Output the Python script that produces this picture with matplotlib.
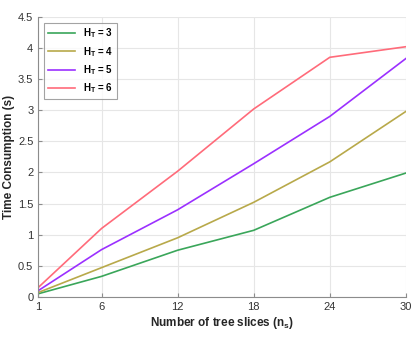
import numpy as np
import matplotlib
matplotlib.use('Agg')
import matplotlib.pyplot as plt

plt.rcParams['font.family'] = ['Liberation Sans', 'DejaVu Sans']
plt.rcParams['mathtext.fontset'] = 'custom'
plt.rcParams['mathtext.rm'] = 'Liberation Sans'
plt.rcParams['mathtext.bf'] = 'Liberation Sans:bold'

n_slices = [1, 6, 12, 18, 24, 30]
h3 = [0.05, 0.33, 0.75, 1.07, 1.60, 1.99]
h4 = [0.07, 0.47, 0.95, 1.52, 2.17, 2.98]
h5 = [0.10, 0.76, 1.40, 2.14, 2.90, 3.83]
h6 = [0.15, 1.10, 2.02, 3.02, 3.85, 4.02]
labels = [r'$\mathbf{H_T}$ = 3', r'$\mathbf{H_T}$ = 4', r'$\mathbf{H_T}$ = 5', r'$\mathbf{H_T}$ = 6']
colors = ['#3aa65a', '#b8a94a', '#9b30ff', '#ff6b7a']

fig = plt.figure(figsize=(4.15, 3.37), dpi=100)
ax = fig.add_axes([0.092, 0.119, 0.886, 0.831])

for ys, lab, c in zip([h3, h4, h5, h6], labels, colors):
    ax.plot(n_slices, ys, color=c, lw=1.2, label=lab)

ax.set_xlim(1, 30)
ax.set_ylim(0, 4.5)
ax.set_xticks(n_slices)
ax.set_yticks(np.arange(0, 4.51, 0.5))
ax.set_yticklabels(['0', '0.5', '1', '1.5', '2', '2.5', '3', '3.5', '4', '4.5'])
ax.grid(True, color='#e6e6e6', lw=0.8)
ax.set_axisbelow(True)
for s in ['top', 'right']:
    ax.spines[s].set_visible(False)
for s in ['left', 'bottom']:
    ax.spines[s].set_color('#8c8c8c')
ax.tick_params(direction='in', length=3, colors='#8c8c8c', labelcolor='#333333', labelsize=8)

ax.set_xlabel('Number of tree slices (n$_\\mathbf{s}$)', fontsize=8.5, fontweight='bold', color='#262626', labelpad=2)
ax.set_ylabel('Time Consumption (s)', fontsize=8.5, fontweight='bold', color='#262626', labelpad=2)

leg = ax.legend(loc='upper left', prop={'weight': 'bold', 'size': 7},
                frameon=True, fancybox=False, edgecolor='#8c8c8c', handlelength=2.8,
                borderaxespad=0.6, labelspacing=0.45)
leg.get_frame().set_linewidth(0.8)

fig.savefig('out.png', dpi=100)
